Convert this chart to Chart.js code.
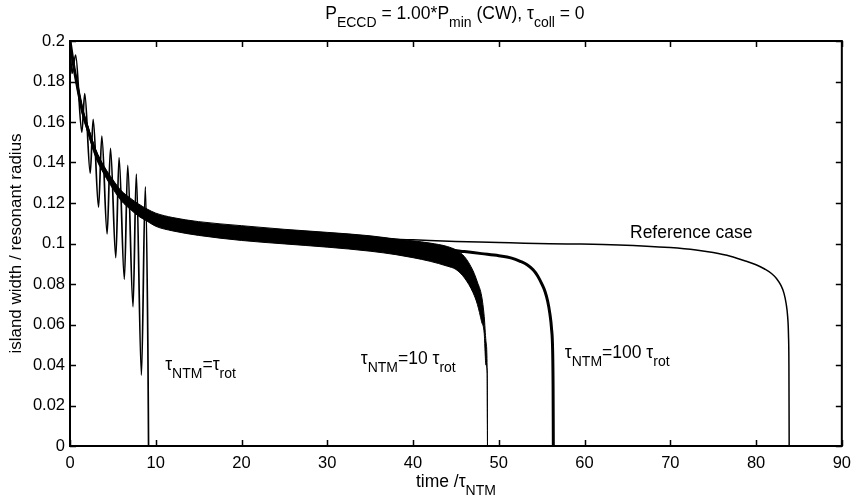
<!DOCTYPE html>
<html>
<head>
<meta charset="utf-8">
<script src="https://cdn.jsdelivr.net/npm/chart.js@4/dist/chart.umd.min.js"></script>
<style>
html,body{margin:0;padding:0;background:#fff}
#wrap{width:859px;height:504px}
</style>
</head>
<body>
<div id="wrap"><canvas id="c" width="859" height="504"></canvas></div>
<script>
// ---- tick labels ----
const xTickLabels = ['0','10','20','30','40','50','60','70','80','90'];
const yTickLabels = ['0','0.02','0.04','0.06','0.08','0.1','0.12','0.14','0.16','0.18','0.2'];

// ---- tau_NTM = tau_rot (large oscillations) ----
const tRot1 = [0, 0.23, 0.66, 1.38, 1.72, 2.36, 2.7, 3.33, 3.71, 4.33, 4.72, 5.34, 5.72, 6.34, 6.73, 7.35, 7.73, 8.33, 8.78, 9.08, 9.16];
const wRot1 = [0.2, 0.184, 0.193, 0.155, 0.174, 0.1347, 0.1613, 0.118, 0.153, 0.1047, 0.147, 0.093, 0.1424, 0.0823, 0.1386, 0.0688, 0.1343, 0.035, 0.128, 0.05, 0];

// ---- tau_NTM = 10 tau_rot (dense oscillation band: envelopes) ----
const tBand10 = [0, 0.5, 1, 1.5, 2, 3, 4, 5, 6, 7, 8, 9, 10, 12, 15, 20, 25, 30, 35, 38, 40, 42, 44, 45, 46, 47, 47.5, 48, 48.3, 48.5, 48.65, 48.68];
const wBand10Upper = [0.2, 0.187, 0.176, 0.166, 0.159, 0.1465, 0.138, 0.1315, 0.126, 0.1225, 0.1195, 0.117, 0.115, 0.1128, 0.1108, 0.1088, 0.107, 0.1055, 0.1038, 0.1022, 0.1013, 0.1002, 0.0985, 0.0968, 0.0935, 0.0865, 0.081, 0.074, 0.064, 0.052, 0.036, 0];
const wBand10Lower = [0.2, 0.185, 0.173, 0.163, 0.156, 0.1425, 0.134, 0.127, 0.121, 0.117, 0.1135, 0.111, 0.1085, 0.1062, 0.104, 0.1015, 0.0998, 0.0982, 0.0962, 0.0945, 0.093, 0.0912, 0.0888, 0.0872, 0.083, 0.0757, 0.07, 0.0613, 0.0556, 0.04, 0.036, 0];

// ---- tau_NTM = 100 tau_rot (narrow band) ----
const tRot100 = [0, 0.5, 1, 1.5, 2, 3, 4, 5, 6, 7, 8, 9, 10, 12, 15, 20, 25, 30, 35, 40, 44, 46, 48, 50, 51.5, 52.5, 53.3, 54, 54.5, 55, 55.4, 55.7, 55.95, 56.15, 56.28, 56.33, 56.36];
const wRot100 = [0.2, 0.186, 0.1745, 0.1645, 0.1575, 0.1445, 0.136, 0.129, 0.1235, 0.1195, 0.1165, 0.114, 0.112, 0.1095, 0.1075, 0.105, 0.1033, 0.1018, 0.1002, 0.0985, 0.097, 0.096, 0.095, 0.094, 0.0928, 0.0912, 0.0895, 0.087, 0.0842, 0.0802, 0.0762, 0.0715, 0.0655, 0.058, 0.047, 0.03, 0];

// ---- Reference case ----
const tRef = [0, 0.5, 1, 1.5, 2, 3, 4, 5, 6, 7, 8, 9, 10, 12, 15, 20, 25, 30, 35, 38, 40, 45, 50, 53, 58, 64, 70, 73, 75, 77, 78.5, 80, 81, 81.8, 82.4, 82.9, 83.25, 83.5, 83.68, 83.78, 83.83, 83.86];
const wRef = [0.2, 0.1865, 0.1755, 0.1655, 0.1585, 0.1455, 0.137, 0.1303, 0.1248, 0.1212, 0.1182, 0.1158, 0.1138, 0.1115, 0.1095, 0.1075, 0.1058, 0.1045, 0.103, 0.1021, 0.1018, 0.101, 0.1005, 0.1001, 0.0998, 0.0993, 0.098, 0.0968, 0.0955, 0.0937, 0.0917, 0.0895, 0.0874, 0.0852, 0.0826, 0.0793, 0.0755, 0.0705, 0.064, 0.055, 0.04, 0];

// ---- text ----
const FONT = '"Liberation Sans", Arial, Helvetica, sans-serif';
const titleParts = [['P'],['ECCD',1],[' = 1.00*P'],['min',1],[' (CW), τ'],['coll',1],[' = 0']];
const xTitleParts = [['time /τ'],['NTM',1]];
const yTitleParts = [['island width / resonant radius']];
const annotations = [
  {parts:[['τ'],['NTM',1],['=τ'],['rot',1]], t:11.1, w:0.0375},
  {parts:[['τ'],['NTM',1],['=10 τ'],['rot',1]], t:33.9, w:0.0405},
  {parts:[['τ'],['NTM',1],['=100 τ'],['rot',1]], t:57.7, w:0.0435},
  {parts:[['Reference case']], t:65.3, w:0.1027}
];

function drawRich(ctx, parts, x, y, align, size) {
  const s = size || 17.5;
  const main = s + 'px ' + FONT, sub = Math.round(s * 0.8) + 'px ' + FONT;
  let w = 0;
  parts.forEach(p => { ctx.font = p[1] ? sub : main; w += ctx.measureText(p[0]).width; });
  let cx = align === 'center' ? x - w / 2 : x;
  ctx.textAlign = 'left';
  ctx.textBaseline = 'alphabetic';
  ctx.fillStyle = '#000';
  parts.forEach(p => {
    ctx.font = p[1] ? sub : main;
    ctx.fillText(p[0], cx, y + (p[1] ? 8 : 0));
    cx += ctx.measureText(p[0]).width;
  });
}

const framePlugin = {
  id: 'frame',
  afterDraw(chart) {
    const {ctx, chartArea: a, scales: {x, y}} = chart;
    ctx.save();
    ctx.strokeStyle = '#000';
    ctx.lineWidth = 2;
    ctx.strokeRect(a.left, a.top, a.right - a.left, a.bottom - a.top);
    ctx.lineWidth = 1.5;
    const L = 6;
    ctx.beginPath();
    x.ticks.forEach(tk => {
      const px = Math.round(x.getPixelForValue(tk.value)) + 0.5;
      ctx.moveTo(px, a.bottom); ctx.lineTo(px, a.bottom - L);
      ctx.moveTo(px, a.top); ctx.lineTo(px, a.top + L);
    });
    y.ticks.forEach(tk => {
      const py = Math.round(y.getPixelForValue(tk.value)) + 0.5;
      ctx.moveTo(a.left, py); ctx.lineTo(a.left + L, py);
      ctx.moveTo(a.right, py); ctx.lineTo(a.right - L, py);
    });
    ctx.stroke();

    const cxm = (a.left + a.right) / 2;
    drawRich(ctx, titleParts, cxm - 1, 18.5, 'center');
    drawRich(ctx, xTitleParts, cxm, 487, 'center');
    ctx.save();
    ctx.translate(20.5, (a.top + a.bottom) / 2);
    ctx.rotate(-Math.PI / 2);
    drawRich(ctx, yTitleParts, 0, 0, 'center', 17);
    ctx.restore();
    annotations.forEach(an => {
      drawRich(ctx, an.parts, x.getPixelForValue(an.t), y.getPixelForValue(an.w), 'left');
    });
    ctx.restore();
  }
};

const mk = (t, w, extra) => Object.assign({
  data: t.map((v, i) => ({x: v, y: w[i]})),
  borderColor: '#000', backgroundColor: '#000', borderWidth: 1.4,
  pointRadius: 0, cubicInterpolationMode: 'monotone', fill: false
}, extra);

new Chart(document.getElementById('c').getContext('2d'), {
  type: 'line',
  data: {
    datasets: [
      mk(tBand10, wBand10Lower, {label: 'τNTM=10 τrot (lower)', borderWidth: 1}),
      mk(tBand10, wBand10Upper, {label: 'τNTM=10 τrot (upper)', borderWidth: 1, fill: '-1'}),
      mk(tRot100, wRot100, {label: 'τNTM=100 τrot', borderWidth: 3}),
      mk(tRef, wRef, {label: 'Reference case', borderWidth: 1.5}),
      mk(tRot1, wRot1, {label: 'τNTM=τrot', borderWidth: 1.7})
    ]
  },
  options: {
    responsive: false,
    animation: false,
    devicePixelRatio: 1,
    layout: {padding: {top: 41, right: 13, left: 0, bottom: 0}},
    plugins: {legend: {display: false}, tooltip: {enabled: false}, title: {display: false}},
    scales: {
      x: {
        type: 'linear', min: 0, max: 90,
        afterFit(s) { s.height = 58; },
        grid: {display: false, drawTicks: false},
        border: {display: false},
        ticks: {stepSize: 10, padding: 8, color: '#000', autoSkip: false, maxRotation: 0,
          font: {family: FONT, size: 16.5},
          callback: (v, i) => xTickLabels[i]}
      },
      y: {
        type: 'linear', min: 0, max: 0.2,
        afterFit(s) { s.width = 70; },
        grid: {display: false, drawTicks: false},
        border: {display: false},
        ticks: {stepSize: 0.02, padding: 5, color: '#000', autoSkip: false,
          font: {family: FONT, size: 16.5},
          callback: (v, i) => yTickLabels[i]}
      }
    }
  },
  plugins: [framePlugin]
});
</script>
</body>
</html>
